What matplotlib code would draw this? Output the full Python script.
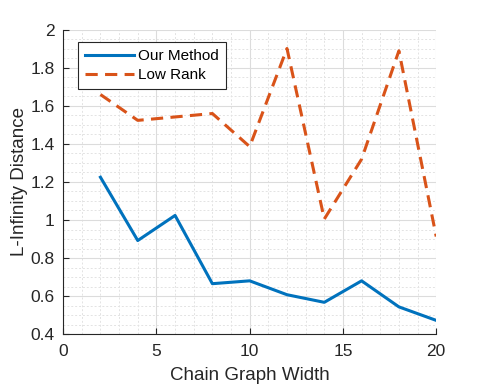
import matplotlib
matplotlib.use('Agg')
import matplotlib.pyplot as plt
from matplotlib.ticker import MultipleLocator

plt.rcParams['font.family'] = ['Liberation Sans', 'DejaVu Sans']

# data
widths = [2, 4, 6, 8, 10, 12, 14, 16, 18, 20]
our_method = [1.225, 0.892, 1.024, 0.665, 0.680, 0.607, 0.567, 0.680, 0.543, 0.472]
low_rank = [1.660, 1.524, 1.542, 1.560, 1.386, 1.902, 1.005, 1.320, 1.890, 0.913]

xticks = [0, 5, 10, 15, 20]
yticks = [0.4, 0.6, 0.8, 1.0, 1.2, 1.4, 1.6, 1.8, 2.0]
ytick_labels = ['0.4', '0.6', '0.8', '1', '1.2', '1.4', '1.6', '1.8', '2']

fig = plt.figure(figsize=(4.82, 3.88), dpi=100)
ax = fig.add_axes([0.131, 0.139, 0.774, 0.784])

ax.plot(widths, our_method, color='#0072BD', linewidth=2.2, label='Our Method')
ax.plot(widths, low_rank, color='#D95319', linewidth=2.2, dashes=[4, 2.4],
        label='Low Rank')

ax.set_xlim(0, 20)
ax.set_ylim(0.4, 2.0)
ax.set_xticks(xticks)
ax.set_yticks(yticks)
ax.set_yticklabels(ytick_labels)
ax.xaxis.set_minor_locator(MultipleLocator(1))
ax.yaxis.set_minor_locator(MultipleLocator(0.05))

ax.grid(which='major', color='#dcdcdc', linewidth=0.8, linestyle='-')
ax.grid(which='minor', color='#e3e3e3', linewidth=0.7, linestyle=(0, (2, 2)))
ax.set_axisbelow(True)

for s in ['top', 'right']:
    ax.spines[s].set_visible(False)
for s in ['left', 'bottom']:
    ax.spines[s].set_color('#262626')
    ax.spines[s].set_linewidth(0.8)

ax.tick_params(which='both', direction='in', colors='#262626', labelsize=12.5)
ax.tick_params(which='major', length=4)
ax.tick_params(which='minor', length=0)
ax.tick_params(axis='x', pad=7)
ax.tick_params(axis='y', pad=6)

ax.set_xlabel('Chain Graph Width', fontsize=13.5, color='#262626', labelpad=6)
ax.set_ylabel('L-Infinity Distance', fontsize=13.5, color='#262626', labelpad=1.5)

leg = ax.legend(loc='upper left', bbox_to_anchor=(0.04, 0.96), fontsize=11,
                fancybox=False, edgecolor='#262626', framealpha=1,
                handlelength=3.2, borderpad=0.45, labelspacing=0.35,
                handletextpad=0.3, borderaxespad=0)
leg.get_frame().set_linewidth(0.8)

plt.savefig('out.png', dpi=100)
